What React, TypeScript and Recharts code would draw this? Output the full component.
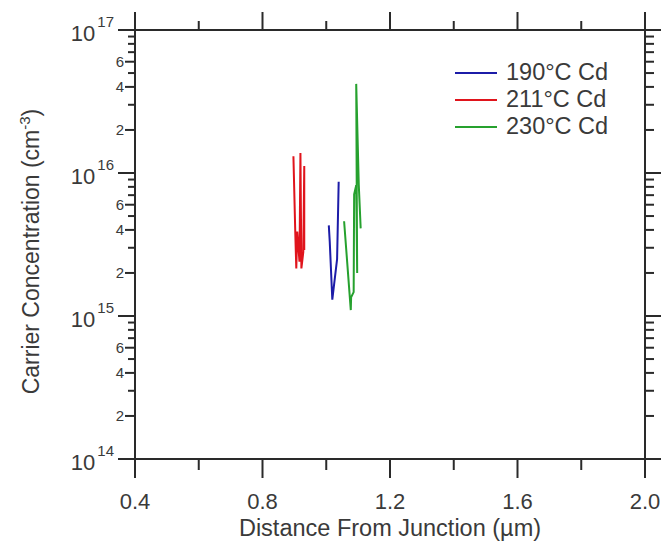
import React from "react";
import { Legend, Line, LineChart, XAxis, YAxis } from "recharts";

const FONT = "'Liberation Sans', Arial, Helvetica, sans-serif";
const INK = "#2a2a2a";
const TXT = "#3a3a3a";

// series (x in µm, y in cm^-3)
const x190 = [1.008, 1.011, 1.019, 1.034, 1.039];
const y190 = [4.3e15, 3.3e15, 1.3e15, 2.5e15, 8.7e15];

const x211 = [0.897, 0.903, 0.906, 0.909, 0.916, 0.919, 0.922, 0.928, 0.931, 0.931];
const y211 = [1.31e16, 3.7e15, 2.15e15, 3.9e15, 2.4e15, 1.38e16, 2.15e15, 2.8e15, 1.12e16, 2.9e15];

const x230 = [1.056, 1.077, 1.078, 1.086, 1.0875, 1.094, 1.097, 1.094, 1.102, 1.108];
const y230 = [4.6e15, 1.1e15, 1.35e15, 1.47e15, 7.1e15, 8.2e15, 2.0e15, 4.2e16, 8.3e15, 4.1e15];

const seriesNames = ["190°C Cd", "211°C Cd", "230°C Cd"];
const seriesColors = ["#1c1ca8", "#e0141c", "#26a12e"];

const xTicks = [0.4, 0.6, 0.8, 1.0, 1.2, 1.4, 1.6, 1.8, 2.0];
const decades = [1e14, 1e15, 1e16, 1e17];
const minorMult = [2, 3, 4, 5, 6, 7, 8, 9];
const labeledMult = [2, 4, 6];

const yTicks = [
  ...decades,
  ...decades.slice(0, 3).flatMap((d) => minorMult.map((m) => d * m)),
].sort((a, b) => a - b);

const toPts = (xs: number[], ys: number[]) => xs.map((x, i) => ({ x, y: ys[i] }));
const data190 = toPts(x190, y190);
const data211 = toPts(x211, y211);
const data230 = toPts(x230, y230);

const split = (v: number) => {
  const e = Math.floor(Math.log10(v) + 1e-6);
  const m = Math.round(v / Math.pow(10, e));
  return { e, m };
};

const isMajorX = (v: number) => Math.abs(v / 0.4 - Math.round(v / 0.4)) < 1e-6;

const LeftTick = (props: any) => {
  const { x, y, payload } = props;
  const { e, m } = split(payload.value);
  const major = m === 1;
  const labeled = labeledMult.includes(m);
  const len = major ? 17 : labeled ? 10 : 7;
  return (
    <g>
      <line x1={x - len} x2={x} y1={y} y2={y} stroke={INK} strokeWidth={2} />
      {major && (
        <text x={x - 21} y={y + 11} textAnchor="end" fontSize={22} fill={TXT} fontFamily={FONT}>
          10
          <tspan dx={2} dy={-14} fontSize={15}>
            {e}
          </tspan>
        </text>
      )}
      {labeled && (
        <text x={x - 11} y={y + 5} textAnchor="end" fontSize={15} fill={TXT} fontFamily={FONT}>
          {m}
        </text>
      )}
    </g>
  );
};

const RightTick = (props: any) => {
  const { x, y, payload } = props;
  const { m } = split(payload.value);
  return <line x1={x} x2={x + (m === 1 ? 16 : 9)} y1={y} y2={y} stroke={INK} strokeWidth={2} />;
};

const BottomTick = (props: any) => {
  const { x, y, payload } = props;
  const major = isMajorX(payload.value);
  return (
    <g>
      <line x1={x} x2={x} y1={y} y2={y + (major ? 19 : 11)} stroke={INK} strokeWidth={2} />
      {major && (
        <text x={x} y={y + 50} textAnchor="middle" fontSize={22} fill={TXT} fontFamily={FONT}>
          {payload.value.toFixed(1)}
        </text>
      )}
    </g>
  );
};

const TopTick = (props: any) => {
  const { x, y, payload } = props;
  const major = isMajorX(payload.value);
  return <line x1={x} x2={x} y1={y} y2={y - (major ? 18 : 9)} stroke={INK} strokeWidth={2} />;
};

const LegendContent = (props: any) => (
  <div style={{ fontFamily: FONT }}>
    {(props.payload || [])
      .filter((p: any) => p.type !== "none")
      .map((p: any) => (
        <div key={p.value} style={{ display: "flex", alignItems: "center", height: 27 }}>
          <span style={{ width: 42, height: 0, borderTop: `2px solid ${p.color}`, marginRight: 9 }} />
          <span style={{ fontSize: 23.5, color: TXT, lineHeight: "27px" }}>{p.value}</span>
        </div>
      ))}
  </div>
);

const YTitle = (props: any) => {
  const vb = props.viewBox || { x: 0, y: 31, width: 134, height: 428 };
  const cx = 39;
  const cy = vb.y + vb.height / 2 + 7;
  return (
    <text transform={`translate(${cx},${cy}) rotate(-90)`} textAnchor="middle" fontSize={23} fill={TXT} fontFamily={FONT}>
      Carrier Concentration (cm
      <tspan dy={-9} fontSize={15}>
        -3
      </tspan>
      <tspan dy={9}>)</tspan>
    </text>
  );
};

const XTitle = (props: any) => {
  const vb = props.viewBox || { x: 135, y: 459, width: 510, height: 87 };
  return (
    <text x={vb.x + vb.width / 2} y={vb.y + 77} textAnchor="middle" fontSize={23.5} fill={TXT} fontFamily={FONT}>
      Distance From Junction (µm)
    </text>
  );
};

export default function App() {
  return (
    <div style={{ position: "absolute", left: 0, top: 0, background: "#fff" }}>
      <LineChart width={662} height={546} margin={{ top: 0, right: 0, bottom: 0, left: 0 }}>
        <XAxis
          xAxisId="bottom"
          dataKey="x"
          type="number"
          domain={[0.4, 2.0]}
          ticks={xTicks}
          allowDataOverflow
          height={87}
          tickSize={0}
          tickMargin={0}
          tick={<BottomTick />}
          axisLine={{ stroke: INK, strokeWidth: 2 }}
          tickLine={false}
          interval={0}
          label={{ content: <XTitle /> }}
        />
        <XAxis
          xAxisId="top"
          orientation="top"
          dataKey="x"
          type="number"
          domain={[0.4, 2.0]}
          ticks={xTicks}
          allowDataOverflow
          height={30}
          tickSize={0}
          tickMargin={0}
          tick={<TopTick />}
          axisLine={{ stroke: INK, strokeWidth: 2 }}
          tickLine={false}
          interval={0}
        />
        <YAxis
          yAxisId="left"
          dataKey="y"
          scale="log"
          type="number"
          domain={[1e14, 1e17]}
          ticks={yTicks}
          allowDataOverflow
          width={135}
          tickSize={0}
          tickMargin={0}
          tick={<LeftTick />}
          axisLine={{ stroke: INK, strokeWidth: 2 }}
          tickLine={false}
          interval={0}
          label={{ content: <YTitle /> }}
        />
        <YAxis
          yAxisId="right"
          orientation="right"
          dataKey="y"
          scale="log"
          type="number"
          domain={[1e14, 1e17]}
          ticks={yTicks}
          allowDataOverflow
          width={17}
          tickSize={0}
          tickMargin={0}
          tick={<RightTick />}
          axisLine={{ stroke: INK, strokeWidth: 2 }}
          tickLine={false}
          interval={0}
        />
        <Legend
          layout="vertical"
          align="center"
          verticalAlign="middle"
          content={<LegendContent />}
          wrapperStyle={{ left: 455, top: 59, width: "auto" }}
        />
        {[data190, data211, data230].map((d, i) => (
          <Line
            key={seriesNames[i]}
            data={d}
            xAxisId="bottom"
            yAxisId="left"
            dataKey="y"
            name={seriesNames[i]}
            stroke={seriesColors[i]}
            strokeWidth={2}
            dot={false}
            isAnimationActive={false}
          />
        ))}
        <Line
          data={data190}
          xAxisId="top"
          yAxisId="right"
          dataKey="y"
          stroke="none"
          dot={false}
          legendType="none"
          isAnimationActive={false}
        />
      </LineChart>
    </div>
  );
}
